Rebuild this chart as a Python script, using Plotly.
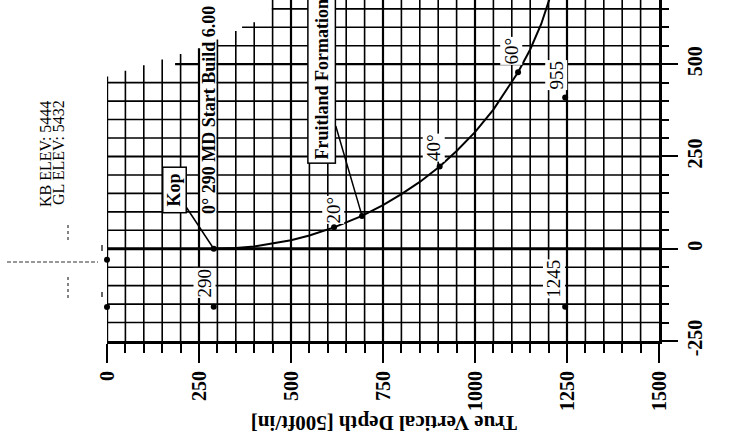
import numpy as np
import plotly.graph_objects as go

# ---------------- data ----------------
# well path (TVD, vertical section) in ft
path_tvd = [290, 350, 400, 450, 500, 550, 617, 693, 750, 800, 850, 904, 950, 1000, 1050, 1117, 1150, 1180, 1200, 1215]
path_vs = [0, 2, 6, 14, 23, 36, 58, 89, 118, 148, 181, 223, 265, 316, 377, 478, 540, 609, 666, 715]

# inclination markers on the path
incl_labels = ["20°", "40°", "60°"]
incl_tvd = [617, 904, 1117]
incl_vs = [58, 223, 478]

# kick-off point and formation top
kop_tvd, kop_vs = 290, 0
fm_name = "Fruitland Formation"
fm_tvd, fm_vs = 693, 89

# other labelled points
pt_labels = ["290", "1245", "955"]
pt_tvd = [290, 1245, 1245]
pt_vs = [-157, -157, 410]

# unlabelled points on the TVD 0 line
extra_tvd = [0, 0]
extra_vs = [-30, -158]

x_ticks = [0, 250, 500, 750, 1000, 1250, 1500]
y_ticks = [-250, 0, 250, 500]

kb_text = "KB ELEV: 5444"
gl_text = "GL ELEV: 5432"
build_text = "0° 290 MD Start Build 6.00"
x_title = "True Vertical Depth [500ft/in]"

# ---------------- layout geometry ----------------
FONT = "Liberation Serif"
W, H = 729, 437
L, R, T, B = 107, 70, 0, 96
X_RANGE = [0, 1500]
Y_RANGE = [-250, 674]


def paper(px, py):
    return (px - L) / (W - L - R), (H - B - py) / (H - T - B)


shapes = []

# horizontal grid lines (clipped at the top-left like the reference sheet)
for v in range(-200, 700, 50):
    xs = 0 if v <= 450 else float(np.interp(v, [450, 500, 550, 600, 650, 700], [0, 185, 300, 367, 448, 530]))
    w = 2.8 if v == 0 else (2.2 if v % 250 == 0 else 1.6)
    shapes.append(dict(type="line", xref="x", yref="y", x0=xs, x1=1500, y0=v, y1=v,
                       line=dict(color="black", width=w), layer="below"))

# white band behind the start-build text
shapes.append(dict(type="rect", xref="x", yref="y", x0=252, x1=298, y0=86, y1=700,
                   fillcolor="white", line=dict(width=0), layer="below"))

# vertical grid lines
for t in range(0, 1500, 50):
    top = float(np.interp(t, [0, 250, 400, 470], [467, 543, 614, 700]))
    w = 2.4 if t == 0 else (2.2 if t % 250 == 0 else 1.6)
    shapes.append(dict(type="line", xref="x", yref="y", x0=t, x1=t, y0=-250, y1=top,
                       line=dict(color="black", width=w), layer="below"))


# small compass symbol at left
def seg(p0, p1, width=1.2, dash="dash", color="#333"):
    a = paper(*p0)
    b = paper(*p1)
    shapes.append(dict(type="line", xref="paper", yref="paper", x0=a[0], y0=a[1], x1=b[0], y1=b[1],
                       line=dict(color=color, width=width, dash=dash)))


seg((7, 262), (98, 262), dash="4px,2px")
seg((68, 225), (68, 242), dash="dot")
seg((68, 277), (68, 300), dash="dot")
seg((102, 245), (102, 251), width=1.2, dash="solid", color="black")
seg((102, 292), (102, 297), width=1.2, dash="solid", color="black")

fig = go.Figure()
fig.add_trace(go.Scatter(x=path_tvd, y=path_vs, mode="lines",
                         line=dict(color="black", width=2), hoverinfo="skip"))
fig.add_trace(go.Scatter(x=incl_tvd + [kop_tvd, fm_tvd] + pt_tvd + extra_tvd,
                         y=incl_vs + [kop_vs, fm_vs] + pt_vs + extra_vs,
                         mode="markers", marker=dict(color="black", size=6),
                         cliponaxis=False, hoverinfo="skip"))

annotations = []

# elevation text
for txt, (px, py) in [(kb_text, (45, 154)), (gl_text, (58, 153))]:
    ax_, ay_ = paper(px, py)
    annotations.append(dict(xref="paper", yref="paper", x=ax_, y=ay_, text=txt, showarrow=False,
                            textangle=-90, xanchor="center", yanchor="middle",
                            font=dict(family=FONT, size=16, color="black")))

# start build text
bx, by = paper(209, 110)
annotations.append(dict(xref="paper", yref="paper", x=bx, y=by, text=build_text, showarrow=False,
                        textangle=-90, xanchor="center", yanchor="middle",
                        font=dict(family=FONT, size=18, color="black", weight="bold")))

# Kop box with leader
annotations.append(dict(x=kop_tvd, y=kop_vs, xref="x", yref="y", text="&nbsp;Kop&nbsp;", textangle=-90,
                        showarrow=True, arrowhead=0, arrowwidth=1.5, arrowcolor="black",
                        ax=-39, ay=-59, standoff=0,
                        bordercolor="black", borderwidth=1.5, borderpad=1, bgcolor="white",
                        font=dict(family=FONT, size=18, color="black", weight="bold")))

# formation box with leader
annotations.append(dict(x=fm_tvd, y=fm_vs, xref="x", yref="y", text=fm_name, textangle=-90,
                        showarrow=True, arrowhead=0, arrowwidth=1.5, arrowcolor="black",
                        ax=-40, ay=-137, standoff=0,
                        bordercolor="black", borderwidth=1.5, borderpad=3, bgcolor="white",
                        font=dict(family=FONT, size=18, color="black", weight="bold")))

# inclination labels
incl_shift = [(-1, 17), (-6, 19), (-7, 21)]
for lab, t, v, (dx, dy) in zip(incl_labels, incl_tvd, incl_vs, incl_shift):
    annotations.append(dict(x=t, y=v, xref="x", yref="y", text=lab, showarrow=False, textangle=-90,
                            xanchor="center", yanchor="middle", xshift=dx, yshift=dy,
                            bgcolor="white", borderpad=0,
                            font=dict(family=FONT, size=19, color="black")))

pt_shift = [(-9, 24), (-11, 28), (-9, 22)]
for lab, t, v, (dx, dy) in zip(pt_labels, pt_tvd, pt_vs, pt_shift):
    annotations.append(dict(x=t, y=v, xref="x", yref="y", text=lab, showarrow=False, textangle=-90,
                            xanchor="center", yanchor="middle", xshift=dx, yshift=dy,
                            bgcolor="white", borderpad=0,
                            font=dict(family=FONT, size=19, color="black")))

# axis title (upside down)
tx, ty = paper(384, 423)
annotations.append(dict(xref="paper", yref="paper", x=tx, y=ty, text=x_title, showarrow=False,
                        textangle=180, xanchor="center", yanchor="middle",
                        font=dict(family=FONT, size=21, color="black", weight="bold")))

fig.update_layout(
    width=W, height=H,
    margin=dict(l=L, r=R, t=T, b=B, pad=0),
    paper_bgcolor="white", plot_bgcolor="white",
    showlegend=False,
    shapes=shapes,
    annotations=annotations,
    xaxis=dict(range=X_RANGE, tickvals=x_ticks, ticktext=[str(v) for v in x_ticks],
               ticks="outside", ticklen=19, tickwidth=2, tickcolor="black",
               tickangle=-90, showgrid=False, zeroline=False,
               showline=True, linewidth=3, linecolor="black",
               tickfont=dict(family=FONT, size=20, color="black", weight="bold"),
               minor=dict(dtick=50, tick0=0, ticks="outside", ticklen=9, tickwidth=2,
                          tickcolor="black", showgrid=False)),
    yaxis=dict(range=Y_RANGE, side="right", tickvals=y_ticks, ticktext=[str(v) for v in y_ticks],
               ticks="outside", ticklen=16, tickwidth=2, tickcolor="black",
               tickangle=-90, showgrid=False, zeroline=False,
               showline=True, linewidth=3, linecolor="black",
               tickfont=dict(family=FONT, size=20, color="black", weight="bold"),
               minor=dict(dtick=50, tick0=0, ticks="outside", ticklen=7, tickwidth=2,
                          tickcolor="black", showgrid=False)),
)

fig.write_html("out.html", config={"displayModeBar": False},
               post_script="document.body.style.margin='0px';")
